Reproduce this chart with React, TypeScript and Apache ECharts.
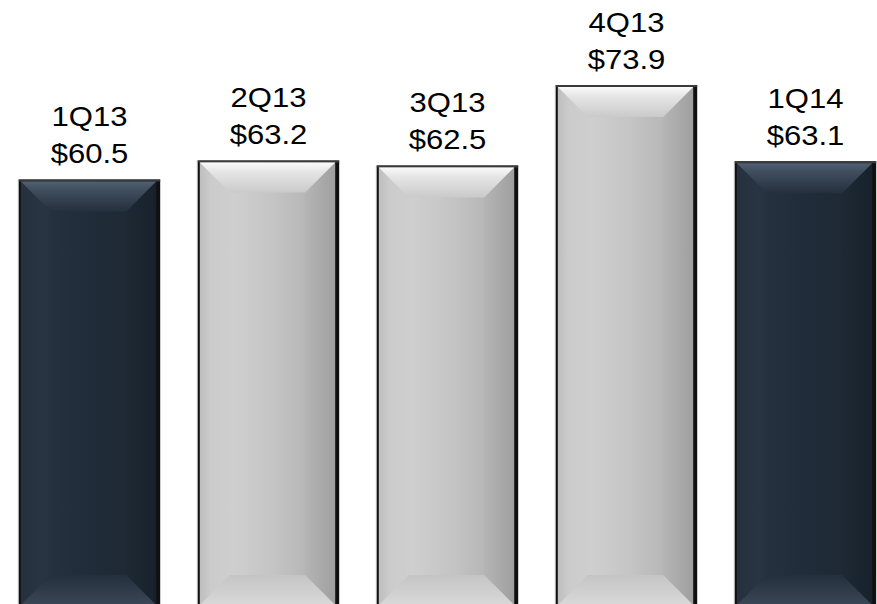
import React, { useEffect, useRef } from "react";
import * as echarts from "echarts";

const categories = ["1Q13", "2Q13", "3Q13", "4Q13", "1Q14"];
const revenue = [60.5, 63.2, 62.5, 73.9, 63.1];

const lin = (x: number, y: number, x2: number, y2: number, stops: [number, string][]) =>
  new echarts.graphic.LinearGradient(x, y, x2, y2, stops.map(([offset, color]) => ({ offset, color })));

const THEMES = {
  dark: {
    body: lin(0, 0, 1, 0, [[0, "#232f3c"], [0.15, "#26323f"], [0.45, "#212d3a"], [0.8, "#1e2935"], [1, "#19222c"]]),
    top: lin(0, 0, 0, 1, [[0, "#506072"], [0.3, "#3f4d5d"], [1, "#24303d"]]),
    bottom: lin(0, 1, 0, 0, [[0, "#3a4756"], [1, "#232f3c"]]),
    left: "rgba(255,255,255,0.01)",
    right: "rgba(0,0,0,0.02)",
  },
  light: {
    body: lin(0, 0, 1, 0, [[0, "#bdbdbd"], [0.08, "#cacaca"], [0.25, "#cfcfcf"], [0.55, "#c4c4c4"], [0.8, "#b6b6b6"], [1, "#a2a2a2"]]),
    top: lin(0, 0, 0, 1, [[0, "#fafafa"], [0.3, "#e6e6e6"], [1, "#cacaca"]]),
    bottom: lin(0, 1, 0, 0, [[0, "#d8d8d8"], [1, "#c5c5c5"]]),
    left: "rgba(255,255,255,0.02)",
    right: "rgba(0,0,0,0.015)",
  },
};

export default function App() {
  const ref = useRef<HTMLDivElement>(null);
  useEffect(() => {
    const chart = echarts.init(ref.current!, null, { renderer: "svg" });
    chart.setOption({
      animation: false,
      grid: { left: 0, right: 0, top: 42, bottom: 4 },
      xAxis: { type: "category", data: categories, show: false },
      yAxis: { type: "value", min: 0, max: 80, show: false },
      series: [
        {
          type: "custom",
          clip: false,
          data: revenue.map((v, i) => [i, v]),
          renderItem: (params: any, api: any) => {
            const idx = api.value(0);
            const v = api.value(1);
            const cat = categories[idx];
            const theme = cat.startsWith("1Q") ? THEMES.dark : THEMES.light;
            const top = api.coord([idx, v]);
            const base = api.coord([idx, 0]);
            const bw = api.size([1, 0])[0] * 0.79;
            const cx = top[0];
            const x0 = cx - bw / 2, x1 = cx + bw / 2, y0 = top[1], y1 = base[1];
            const ix0 = x0 + 2, ix1 = x1 - 4, iy0 = y0 + 2, iy1 = y1 - 1;
            const b = 30;
            return {
              type: "group",
              children: [
                { type: "rect", shape: { x: x0 - 1, y: y0, width: 1, height: y1 - y0 }, style: { fill: "#c8c8c8" } },
                { type: "rect", shape: { x: x0, y: y0, width: x1 - x0, height: y1 - y0 }, style: { fill: "#101010" } },
                { type: "rect", shape: { x: x0, y: y0, width: x1 - x0, height: 2 }, style: { fill: "#3a3a3a" } },
                { type: "rect", shape: { x: ix0, y: iy0, width: ix1 - ix0, height: iy1 - iy0 }, style: { fill: theme.body } },
                {
                  type: "polygon",
                  shape: { points: [[ix0, iy0], [ix0 + b, iy0 + b], [ix0 + b, iy1 - b], [ix0, iy1]] },
                  style: { fill: theme.left },
                },
                {
                  type: "polygon",
                  shape: { points: [[ix1, iy0], [ix1 - b, iy0 + b], [ix1 - b, iy1 - b], [ix1, iy1]] },
                  style: { fill: theme.right },
                },
                {
                  type: "polygon",
                  shape: { points: [[ix0, iy0], [ix1, iy0], [ix1 - b, iy0 + b], [ix0 + b, iy0 + b]] },
                  style: { fill: theme.top },
                },
                {
                  type: "polygon",
                  shape: { points: [[ix0, iy1], [ix1, iy1], [ix1 - b, iy1 - b], [ix0 + b, iy1 - b]] },
                  style: { fill: theme.bottom },
                },
                {
                  type: "text",
                  x: cx,
                  y: y0 - 8,
                  scaleX: 1.09,
                  style: {
                    text: cat + "\n$" + v.toFixed(1),
                    x: 0,
                    y: 0,
                    align: "center",
                    verticalAlign: "bottom",
                    fontFamily: "Liberation Sans, Arial, sans-serif",
                    fontSize: 28.5,
                    lineHeight: 37,
                    fill: "#000",
                  },
                },
              ],
            };
          },
        },
      ],
    });
    return () => chart.dispose();
  }, []);
  return (
    <div style={{ position: "absolute", left: 0, top: 0, width: 877, height: 604, overflow: "hidden", background: "#fff" }}>
      <div ref={ref} style={{ width: 895, height: 610 }} />
    </div>
  );
}
